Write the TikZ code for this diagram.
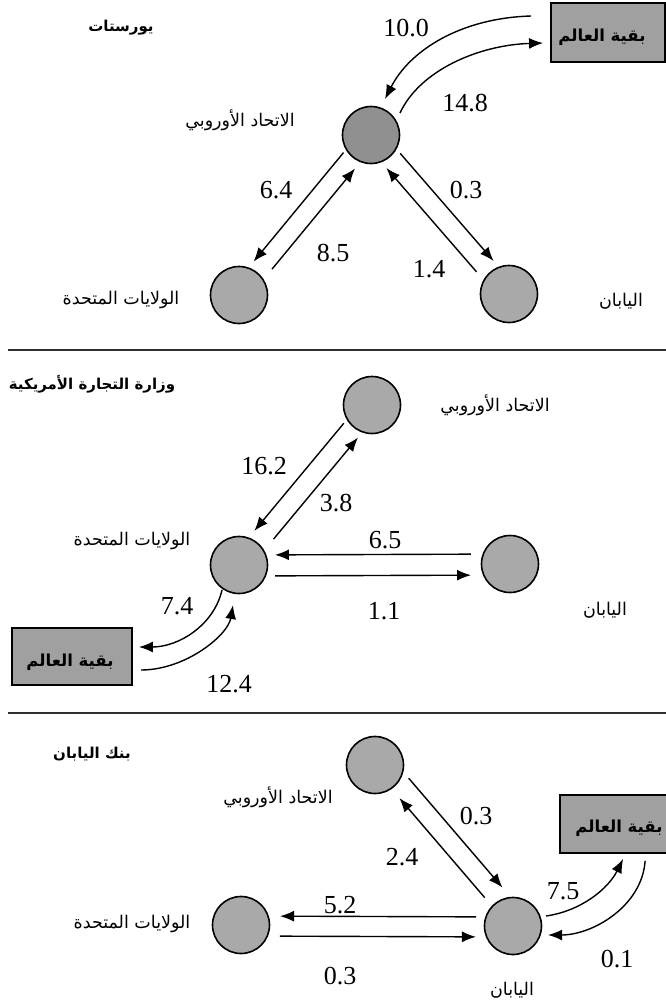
\documentclass[tikz,border=0pt]{standalone}
\usepackage{fontspec}
\setmainfont{Liberation Serif}
\newfontfamily\arabicfont[Script=Arabic]{DejaVu Sans}
\TeXXeTstate=1
\usetikzlibrary{arrows.meta,calc}
\definecolor{ballgray}{HTML}{A9A9A9}
\definecolor{balldark}{HTML}{909090}
\definecolor{boxgray}{HTML}{A0A0A0}
\definecolor{sepgray}{HTML}{303030}
\tikzset{
  ball/.style={circle,draw=black,line width=1.6pt,fill=ballgray,minimum size=57pt,inner sep=0pt},
  balldk/.style={ball,fill=balldark},
  worldbox/.style={draw=black,line width=1.8pt,fill=boxgray,inner sep=0pt},
  boxtext/.style={font=\arabicfont\bfseries\fontsize{16.5}{19}\selectfont,inner sep=0pt},
  num/.style={font=\fontsize{26}{28}\selectfont,inner sep=0pt},
  lab/.style={font=\arabicfont\fontsize{17.5}{20}\selectfont,inner sep=0pt},
  ttl/.style={font=\arabicfont\bfseries\fontsize{15}{18}\selectfont,inner sep=0pt},
  flow/.style={line width=1.4pt,-{Latex[length=14pt,width=11pt]}},
  sepline/.style={line width=1.8pt,draw=sepgray},
}
\begin{document}
\begin{tikzpicture}[x=1pt,y=-1pt]
\useasboundingbox (0,0) rectangle (666,1005);
\fill[white] (0,0) rectangle (666,1005);

% ---------------- Panel 1 ----------------
\node[ttl] (t1) at (121,28) {\beginR يورستات\endR};
\node[worldbox,minimum width=114pt,minimum height=59pt] (b1) at (608,32.5) {};
\node[boxtext] (b1t) at (602,37) {\beginR بقية العالم\endR};
\node[balldk] (eu1) at (371,135) {};
\node[ball] (us1) at (239,295) {};
\node[ball] (jp1) at (509,294) {};
\node[lab] (leu1) at (240,120) {\beginR الاتحاد الأوروبي\endR};
\node[lab] (lus1) at (121,300) {\beginR الولايات المتحدة\endR};
\node[lab] (ljp1) at (621,301) {\beginR اليابان\endR};

\node[num] (n1a) at (406,28) {10.0};
\node[num] (n1b) at (465,103) {14.8};
\node[num] (n1c) at (276,190) {6.4};
\node[num] (n1d) at (333,253) {8.5};
\node[num] (n1e) at (466,190) {0.3};
\node[num] (n1f) at (429,269) {1.4};

\draw[flow] ($(b1.west)+(-19,-16.5)$) .. controls +(-70,2) and +(25,-49) .. ($(eu1)+(14,-36)$);
\draw[flow] ($(eu1)+(29,-22)$) .. controls +(20,-43) and +(-64,2) .. ($(b1.west)+(-7,10.5)$);
\draw[flow,shorten <=31pt,shorten >=35pt] ($(eu1)!10pt!-90:(us1)$) -- ($(us1)!10pt!90:(eu1)$);
\draw[flow,shorten <=41pt,shorten >=36pt] ($(us1)!9pt!-90:(eu1)$) -- ($(eu1)!9pt!90:(us1)$);
\draw[flow,shorten <=33pt,shorten >=35pt] ($(eu1)!10pt!90:(jp1)$) -- ($(jp1)!10pt!-90:(eu1)$);
\draw[flow,shorten <=38pt,shorten >=35pt] ($(jp1)!10pt!90:(eu1)$) -- ($(eu1)!10pt!-90:(jp1)$);

\draw[sepline] (8,350) -- (666,350);

% ---------------- Panel 2 ----------------
\node[ttl] (t2) at (92,384) {\beginR وزارة التجارة الأمريكية\endR};
\node[ball] (eu2) at (372,405) {};
\node[ball] (us2) at (239,565) {};
\node[ball] (jp2) at (510,564) {};
\node[worldbox,minimum width=120pt,minimum height=57pt] (b2) at (72,656.5) {};
\node[boxtext] (b2t) at (70,662) {\beginR بقية العالم\endR};
\node[lab] (leu2) at (495,405) {\beginR الاتحاد الأوروبي\endR};
\node[lab] (lus2) at (132,541) {\beginR الولايات المتحدة\endR};
\node[lab] (ljp2) at (605,610) {\beginR اليابان\endR};

\node[num] (n2a) at (264,466) {16.2};
\node[num] (n2b) at (336,503) {3.8};
\node[num] (n2c) at (385,540) {6.5};
\node[num] (n2d) at (384,611) {1.1};
\node[num] (n2e) at (177,606) {7.4};
\node[num] (n2f) at (229,684) {12.4};

\draw[flow,shorten <=32pt,shorten >=36pt] ($(eu2)!10pt!-90:(us2)$) -- ($(us2)!10pt!90:(eu2)$);
\draw[flow,shorten <=42pt,shorten >=34pt] ($(us2)!10pt!-90:(eu2)$) -- ($(eu2)!10pt!90:(us2)$);
\draw[flow,shorten <=39pt,shorten >=36pt] ($(jp2)!10pt!-90:(us2)$) -- ($(us2)!10pt!90:(jp2)$);
\draw[flow,shorten <=36pt,shorten >=39pt] ($(us2)!11pt!-90:(jp2)$) -- ($(jp2)!11pt!90:(us2)$);
\draw[flow] ($(us2)+(-17,25)$) .. controls +(-8,35) and +(40,0) .. ($(b2.east)+(6,-9.5)$);
\draw[flow] ($(b2.east)+(8,13.5)$) .. controls +(45,0) and +(-5,30) .. ($(us2)+(-6,40)$);

\draw[sepline] (8,713) -- (666,713);

% ---------------- Panel 3 ----------------
\node[ttl] (t3) at (92,754) {\beginR بنك اليابان\endR};
\node[ball] (eu3) at (375,765) {};
\node[ball] (us3) at (241,925) {};
\node[ball] (jp3) at (513,926) {};
\node[worldbox,minimum width=140pt,minimum height=58pt] (b3) at (630,824) {};
\node[boxtext] (b3t) at (619,828) {\beginR بقية العالم\endR};
\node[lab] (leu3) at (278,797) {\beginR الاتحاد الأوروبي\endR};
\node[lab] (lus3) at (132,924) {\beginR الولايات المتحدة\endR};
\node[lab] (ljp3) at (512,990) {\beginR اليابان\endR};

\node[num] (n3a) at (476,816) {0.3};
\node[num] (n3b) at (402,857) {2.4};
\node[num] (n3c) at (340,905) {5.2};
\node[num] (n3d) at (340,976) {0.3};
\node[num] (n3e) at (563,891) {7.5};
\node[num] (n3f) at (617,959) {0.1};

\draw[flow,shorten <=32pt,shorten >=36pt] ($(eu3)!17pt!90:(jp3)$) -- ($(jp3)!17pt!-90:(eu3)$);
\draw[flow,shorten <=40pt,shorten >=41pt] ($(jp3)!3pt!90:(eu3)$) -- ($(eu3)!3pt!-90:(jp3)$);
\draw[flow,shorten <=37pt,shorten >=39pt] ($(jp3)!9pt!-90:(us3)$) -- ($(us3)!9pt!90:(jp3)$);
\draw[flow,shorten <=39pt,shorten >=37pt] ($(us3)!11pt!-90:(jp3)$) -- ($(jp3)!11pt!90:(us3)$);
\draw[flow] ($(jp3)+(33,-10)$) .. controls +(35,-5) and +(-15,30) .. ($(b3.south west)+(64,5)$);
\draw[flow] ($(b3.south west)+(86,7)$) .. controls +(-3,45) and +(45,0) .. ($(jp3)+(35,9)$);
\end{tikzpicture}
\end{document}
